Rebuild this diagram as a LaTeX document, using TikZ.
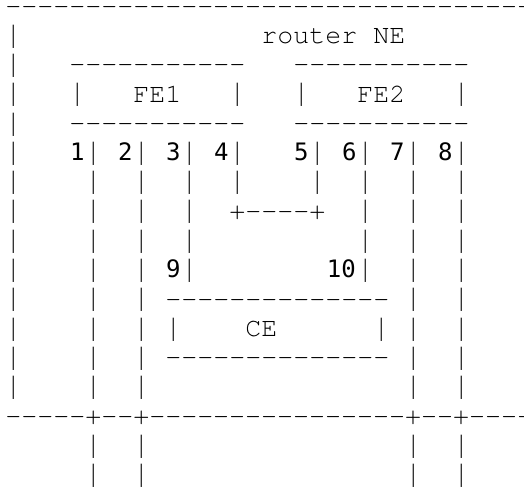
\documentclass[tikz,border=0pt]{standalone}
\usepackage{fontspec}
\newfontfamily\asciifont{TeX Gyre Cursor}
\newfontfamily\digitfont{DejaVu Sans Mono}
\ExplSyntaxOn
\NewDocumentCommand\D{m}{\prg_replicate:nn{#1}{-\kern0pt}}
\ExplSyntaxOff
\newcommand\tallbar{\raisebox{-0.6bp}{\scalebox{1}[1.2]{|}}}
\tikzset{
  ch/.style={inner sep=0pt, outer sep=0pt, anchor=base west, text=black,
    font=\fontsize{26.66bp}{29.3bp}\selectfont\asciifont},
  dg/.style={inner sep=0pt, outer sep=0pt, anchor=base, text=black,
    font=\fontsize{24bp}{29.3bp}\selectfont\digitfont},
}
\begin{document}
\begin{tikzpicture}[x=16bp,y=-29.3bp]
\useasboundingbox (0bp,0bp) rectangle (524bp,-491bp);
\begin{scope}[shift={(5.3bp,-43.5bp)}]
  % outer frame of router NE
  \node[ch] (topline) at (0,-1) {\D{33}};
  \node[ch] (ne) at (16,0) {router NE};
  % FE boxes
  \node[ch] (fe1top) at (4,1) {\D{11}};
  \node[ch] (fe2top) at (18,1) {\D{11}};
  \node[ch] (fe1) at (8,2) {FE1};
  \node[ch] (fe2) at (22,2) {FE2};
  \node[ch] (fe1bot) at (4,3) {\D{11}};
  \node[ch] (fe2bot) at (18,3) {\D{11}};
  % port numbers
  \foreach \n/\c in {1/4,2/7,3/10,4/13,5/18,6/21,7/24,8/27}
    \node[dg] (port\n) at (\c+0.5,4) {\n};
  % link between ports 4 and 5
  \node[ch] (link45) at (14,6) {+\D{4}+};
  \node[dg] (port9) at (10.5,8) {9};
  \node[dg] (port10) at (21,8) {10};
  % CE box
  \node[ch] (cetop) at (10,9) {\D{14}};
  \node[ch] (ce) at (15,10) {CE};
  \node[ch] (cebot) at (10,11) {\D{14}};
  % bottom edge of router NE
  \node[ch] (botline) at (0,13) {\D{5}+\D{2}+\D{16}+\D{2}+\D{4}};
  % vertical bars
  \foreach \r/\cols in {0/{0},1/{0},2/{0,4,14,18,28},3/{0},
      4/{0,5,8,11,14,19,22,25,28},5/{0,5,8,11,14,19,22,25,28},
      6/{0,5,8,11,22,25,28},7/{0,5,8,11,22,25,28},8/{0,5,8,11,22,25,28},
      9/{0,5,8,25,28},10/{0,5,8,10,23,25,28},11/{0,5,8,25,28},
      12/{0,5,8,25,28},14/{5,8,25,28},15/{5,8,25,28}}
    \foreach \c in \cols
      \node[ch] (bar-\r-\c) at (\c,\r) {\tallbar};
\end{scope}
\end{tikzpicture}
\end{document}
